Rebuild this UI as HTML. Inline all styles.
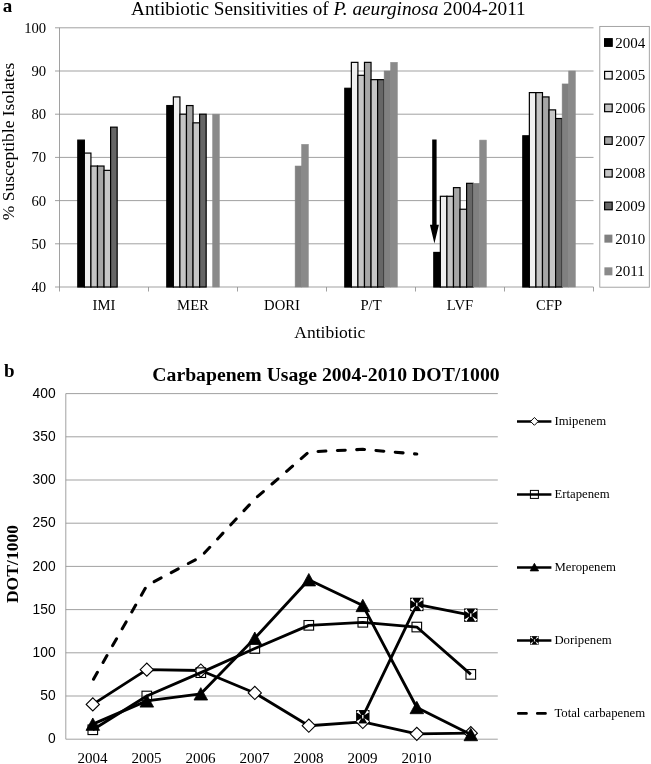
<!DOCTYPE html>
<html lang="en"><head><meta charset="utf-8"><title>Antibiotic Sensitivities of P. aeurginosa and Carbapenem Usage</title>
<style>
html,body{margin:0;padding:0;background:#fff;}
body{width:651px;height:764px;overflow:hidden;}
svg{display:block;will-change:transform;}
text{font-family:"Liberation Serif", serif;fill:#000;}
.sans{font-family:"Liberation Sans", sans-serif;}
.grid{stroke:#909090;stroke-width:0.85;fill:none;shape-rendering:auto;}
.ser{fill:none;stroke:#000;stroke-width:2.85;stroke-linejoin:round;stroke-linecap:butt;}
</style></head><body>
<svg width="651" height="764" viewBox="0 0 651 764">
<rect x="0" y="0" width="651" height="764" fill="#ffffff"/>

<g id="panelA">
<text x="2.8" y="12.4" font-size="19" font-weight="bold">a</text>
<text x="328.4" y="15.4" font-size="19.24" text-anchor="middle">Antibiotic Sensitivities of <tspan font-style="italic">P. aeurginosa</tspan> 2004-2011</text>
<line class="grid" x1="55.0" y1="287.00" x2="593.5" y2="287.00"/>
<text x="46.2" y="292.00" font-size="14.67" text-anchor="end">40</text>
<line class="grid" x1="55.0" y1="243.80" x2="593.5" y2="243.80"/>
<text x="46.2" y="248.80" font-size="14.67" text-anchor="end">50</text>
<line class="grid" x1="55.0" y1="200.60" x2="593.5" y2="200.60"/>
<text x="46.2" y="205.60" font-size="14.67" text-anchor="end">60</text>
<line class="grid" x1="55.0" y1="157.40" x2="593.5" y2="157.40"/>
<text x="46.2" y="162.40" font-size="14.67" text-anchor="end">70</text>
<line class="grid" x1="55.0" y1="114.20" x2="593.5" y2="114.20"/>
<text x="46.2" y="119.20" font-size="14.67" text-anchor="end">80</text>
<line class="grid" x1="55.0" y1="71.00" x2="593.5" y2="71.00"/>
<text x="46.2" y="76.00" font-size="14.67" text-anchor="end">90</text>
<line class="grid" x1="55.0" y1="27.80" x2="593.5" y2="27.80"/>
<text x="46.2" y="32.80" font-size="14.67" text-anchor="end">100</text>
<line class="grid" x1="59.5" y1="27.80" x2="59.5" y2="291.5"/>
<line class="grid" x1="148.5" y1="287.0" x2="148.5" y2="291.5"/>
<line class="grid" x1="237.5" y1="287.0" x2="237.5" y2="291.5"/>
<line class="grid" x1="326.5" y1="287.0" x2="326.5" y2="291.5"/>
<line class="grid" x1="415.5" y1="287.0" x2="415.5" y2="291.5"/>
<line class="grid" x1="504.5" y1="287.0" x2="504.5" y2="291.5"/>
<line class="grid" x1="593.5" y1="287.0" x2="593.5" y2="291.5"/>
<text transform="translate(14.2,141.5) rotate(-90)" font-size="17.5" text-anchor="middle">% Susceptible Isolates</text>
<text x="104.00" y="310.3" font-size="14.67" text-anchor="middle">IMI</text>
<text x="193.00" y="310.3" font-size="14.67" text-anchor="middle">MER</text>
<text x="282.00" y="310.3" font-size="14.67" text-anchor="middle">DORI</text>
<text x="371.00" y="310.3" font-size="14.67" text-anchor="middle">P/T</text>
<text x="460.00" y="310.3" font-size="14.67" text-anchor="middle">LVF</text>
<text x="549.00" y="310.3" font-size="14.67" text-anchor="middle">CFP</text>
<text x="329.8" y="338" font-size="17.5" text-anchor="middle">Antibiotic</text>
<rect x="77.80" y="140.12" width="6.56" height="146.88" fill="#000000" stroke="#000" stroke-width="1.2"/>
<rect x="84.36" y="153.08" width="6.56" height="133.92" fill="#f0f0f0" stroke="#000" stroke-width="1.2"/>
<rect x="90.92" y="166.04" width="6.56" height="120.96" fill="#c4c4c4" stroke="#000" stroke-width="1.2"/>
<rect x="97.48" y="166.04" width="6.56" height="120.96" fill="#a6a6a6" stroke="#000" stroke-width="1.2"/>
<rect x="104.04" y="170.36" width="6.56" height="116.64" fill="#c6c6c6" stroke="#000" stroke-width="1.2"/>
<rect x="110.60" y="127.16" width="6.56" height="159.84" fill="#666666" stroke="#000" stroke-width="1.2"/>
<rect x="166.80" y="105.56" width="6.56" height="181.44" fill="#000000" stroke="#000" stroke-width="1.2"/>
<rect x="173.36" y="96.92" width="6.56" height="190.08" fill="#f0f0f0" stroke="#000" stroke-width="1.2"/>
<rect x="179.92" y="114.20" width="6.56" height="172.80" fill="#c4c4c4" stroke="#000" stroke-width="1.2"/>
<rect x="186.48" y="105.56" width="6.56" height="181.44" fill="#a6a6a6" stroke="#000" stroke-width="1.2"/>
<rect x="193.04" y="122.84" width="6.56" height="164.16" fill="#c6c6c6" stroke="#000" stroke-width="1.2"/>
<rect x="199.60" y="114.20" width="6.56" height="172.80" fill="#666666" stroke="#000" stroke-width="1.2"/>
<rect x="212.72" y="114.20" width="6.56" height="172.80" fill="#8a8a8a" stroke="#8a8a8a" stroke-width="0.6"/>
<rect x="295.16" y="166.04" width="6.56" height="120.96" fill="#808080" stroke="#808080" stroke-width="0.6"/>
<rect x="301.72" y="144.44" width="6.56" height="142.56" fill="#8a8a8a" stroke="#8a8a8a" stroke-width="0.6"/>
<rect x="344.80" y="88.28" width="6.56" height="198.72" fill="#000000" stroke="#000" stroke-width="1.2"/>
<rect x="351.36" y="62.36" width="6.56" height="224.64" fill="#f0f0f0" stroke="#000" stroke-width="1.2"/>
<rect x="357.92" y="75.32" width="6.56" height="211.68" fill="#c4c4c4" stroke="#000" stroke-width="1.2"/>
<rect x="364.48" y="62.36" width="6.56" height="224.64" fill="#a6a6a6" stroke="#000" stroke-width="1.2"/>
<rect x="371.04" y="79.64" width="6.56" height="207.36" fill="#c6c6c6" stroke="#000" stroke-width="1.2"/>
<rect x="377.60" y="79.64" width="6.56" height="207.36" fill="#666666" stroke="#000" stroke-width="1.2"/>
<rect x="384.16" y="71.00" width="6.56" height="216.00" fill="#808080" stroke="#808080" stroke-width="0.6"/>
<rect x="390.72" y="62.36" width="6.56" height="224.64" fill="#8a8a8a" stroke="#8a8a8a" stroke-width="0.6"/>
<rect x="433.80" y="252.44" width="6.56" height="34.56" fill="#000000" stroke="#000" stroke-width="1.2"/>
<rect x="440.36" y="196.28" width="6.56" height="90.72" fill="#f0f0f0" stroke="#000" stroke-width="1.2"/>
<rect x="446.92" y="196.28" width="6.56" height="90.72" fill="#c4c4c4" stroke="#000" stroke-width="1.2"/>
<rect x="453.48" y="187.64" width="6.56" height="99.36" fill="#a6a6a6" stroke="#000" stroke-width="1.2"/>
<rect x="460.04" y="209.24" width="6.56" height="77.76" fill="#c6c6c6" stroke="#000" stroke-width="1.2"/>
<rect x="466.60" y="183.32" width="6.56" height="103.68" fill="#666666" stroke="#000" stroke-width="1.2"/>
<rect x="473.16" y="183.32" width="6.56" height="103.68" fill="#808080" stroke="#808080" stroke-width="0.6"/>
<rect x="479.72" y="140.12" width="6.56" height="146.88" fill="#8a8a8a" stroke="#8a8a8a" stroke-width="0.6"/>
<rect x="522.80" y="135.80" width="6.56" height="151.20" fill="#000000" stroke="#000" stroke-width="1.2"/>
<rect x="529.36" y="92.60" width="6.56" height="194.40" fill="#f0f0f0" stroke="#000" stroke-width="1.2"/>
<rect x="535.92" y="92.60" width="6.56" height="194.40" fill="#c4c4c4" stroke="#000" stroke-width="1.2"/>
<rect x="542.48" y="96.92" width="6.56" height="190.08" fill="#a6a6a6" stroke="#000" stroke-width="1.2"/>
<rect x="549.04" y="109.88" width="6.56" height="177.12" fill="#c6c6c6" stroke="#000" stroke-width="1.2"/>
<rect x="555.60" y="118.52" width="6.56" height="168.48" fill="#666666" stroke="#000" stroke-width="1.2"/>
<rect x="562.16" y="83.96" width="6.56" height="203.04" fill="#808080" stroke="#808080" stroke-width="0.6"/>
<rect x="568.72" y="71.00" width="6.56" height="216.00" fill="#8a8a8a" stroke="#8a8a8a" stroke-width="0.6"/>
<path d="M432.2 139.5 H436.6 V224.7 H438.9 L434.4 243.6 L429.9 224.7 H432.2 Z" fill="#000"/>
<rect x="599.8" y="26.4" width="49.5" height="260.8" fill="#fff" stroke="#959595" stroke-width="0.85"/>
<rect x="604.6" y="38.70" width="7.6" height="7.6" fill="#000000" stroke="#000" stroke-width="1.2"/>
<text x="615.3" y="47.60" font-size="15">2004</text>
<rect x="604.6" y="71.39" width="7.6" height="7.6" fill="#f0f0f0" stroke="#000" stroke-width="1.2"/>
<text x="615.3" y="80.29" font-size="15">2005</text>
<rect x="604.6" y="104.08" width="7.6" height="7.6" fill="#c4c4c4" stroke="#000" stroke-width="1.2"/>
<text x="615.3" y="112.98" font-size="15">2006</text>
<rect x="604.6" y="136.77" width="7.6" height="7.6" fill="#a6a6a6" stroke="#000" stroke-width="1.2"/>
<text x="615.3" y="145.67" font-size="15">2007</text>
<rect x="604.6" y="169.46" width="7.6" height="7.6" fill="#c6c6c6" stroke="#000" stroke-width="1.2"/>
<text x="615.3" y="178.36" font-size="15">2008</text>
<rect x="604.6" y="202.15" width="7.6" height="7.6" fill="#666666" stroke="#000" stroke-width="1.2"/>
<text x="615.3" y="211.05" font-size="15">2009</text>
<rect x="604.4" y="234.64" width="8" height="8" fill="#808080"/>
<text x="615.3" y="243.74" font-size="15">2010</text>
<rect x="604.4" y="267.33" width="8" height="8" fill="#8a8a8a"/>
<text x="615.3" y="276.43" font-size="15">2011</text>
</g>
<g id="panelB">
<text x="4" y="376.9" font-size="19" font-weight="bold">b</text>
<text x="326" y="380.5" font-size="19.7" font-weight="bold" text-anchor="middle">Carbapenem Usage 2004-2010 DOT/1000</text>
<line class="grid" x1="65.8" y1="739.20" x2="497.80" y2="739.20"/>
<text class="sans" x="55.6" y="743.30" font-size="13.8" text-anchor="end">0</text>
<line class="grid" x1="65.8" y1="696.00" x2="497.80" y2="696.00"/>
<text class="sans" x="55.6" y="700.10" font-size="13.8" text-anchor="end">50</text>
<line class="grid" x1="65.8" y1="652.80" x2="497.80" y2="652.80"/>
<text class="sans" x="55.6" y="656.90" font-size="13.8" text-anchor="end">100</text>
<line class="grid" x1="65.8" y1="609.60" x2="497.80" y2="609.60"/>
<text class="sans" x="55.6" y="613.70" font-size="13.8" text-anchor="end">150</text>
<line class="grid" x1="65.8" y1="566.40" x2="497.80" y2="566.40"/>
<text class="sans" x="55.6" y="570.50" font-size="13.8" text-anchor="end">200</text>
<line class="grid" x1="65.8" y1="523.20" x2="497.80" y2="523.20"/>
<text class="sans" x="55.6" y="527.30" font-size="13.8" text-anchor="end">250</text>
<line class="grid" x1="65.8" y1="480.00" x2="497.80" y2="480.00"/>
<text class="sans" x="55.6" y="484.10" font-size="13.8" text-anchor="end">300</text>
<line class="grid" x1="65.8" y1="436.80" x2="497.80" y2="436.80"/>
<text class="sans" x="55.6" y="440.90" font-size="13.8" text-anchor="end">350</text>
<line class="grid" x1="65.8" y1="393.60" x2="497.80" y2="393.60"/>
<text class="sans" x="55.6" y="397.70" font-size="13.8" text-anchor="end">400</text>
<line class="grid" x1="65.8" y1="393.60" x2="65.8" y2="739.2"/>
<text transform="translate(18.1,564) rotate(-90)" font-size="17.6" font-weight="bold" text-anchor="middle">DOT/1000</text>
<text x="92.50" y="762.7" font-size="15.1" text-anchor="middle">2004</text>
<text x="146.50" y="762.7" font-size="15.1" text-anchor="middle">2005</text>
<text x="200.50" y="762.7" font-size="15.1" text-anchor="middle">2006</text>
<text x="254.50" y="762.7" font-size="15.1" text-anchor="middle">2007</text>
<text x="308.50" y="762.7" font-size="15.1" text-anchor="middle">2008</text>
<text x="362.50" y="762.7" font-size="15.1" text-anchor="middle">2009</text>
<text x="416.50" y="762.7" font-size="15.1" text-anchor="middle">2010</text>
<polyline class="ser" points="92.80,704.38 146.80,669.65 200.80,670.51 254.80,692.98 308.80,725.72 362.80,721.92 416.80,733.84 470.80,733.15"/>
<path d="M86.20 704.38 L92.80 697.78 L99.40 704.38 L92.80 710.98 Z" fill="#fff" stroke="#000" stroke-width="1.1"/>
<path d="M140.20 669.65 L146.80 663.05 L153.40 669.65 L146.80 676.25 Z" fill="#fff" stroke="#000" stroke-width="1.1"/>
<path d="M194.20 670.51 L200.80 663.91 L207.40 670.51 L200.80 677.11 Z" fill="#fff" stroke="#000" stroke-width="1.1"/>
<path d="M248.20 692.98 L254.80 686.38 L261.40 692.98 L254.80 699.58 Z" fill="#fff" stroke="#000" stroke-width="1.1"/>
<path d="M302.20 725.72 L308.80 719.12 L315.40 725.72 L308.80 732.32 Z" fill="#fff" stroke="#000" stroke-width="1.1"/>
<path d="M356.20 721.92 L362.80 715.32 L369.40 721.92 L362.80 728.52 Z" fill="#fff" stroke="#000" stroke-width="1.1"/>
<path d="M410.20 733.84 L416.80 727.24 L423.40 733.84 L416.80 740.44 Z" fill="#fff" stroke="#000" stroke-width="1.1"/>
<path d="M464.20 733.15 L470.80 726.55 L477.40 733.15 L470.80 739.75 Z" fill="#fff" stroke="#000" stroke-width="1.1"/>
<polyline class="ser" points="92.80,729.78 146.80,696.00 200.80,672.67 254.80,648.48 308.80,625.32 362.80,622.30 416.80,627.05 470.80,674.40"/>
<rect x="88.00" y="724.98" width="9.6" height="9.6" fill="none" stroke="#000" stroke-width="1.1"/>
<rect x="142.00" y="691.20" width="9.6" height="9.6" fill="none" stroke="#000" stroke-width="1.1"/>
<rect x="196.00" y="667.87" width="9.6" height="9.6" fill="none" stroke="#000" stroke-width="1.1"/>
<rect x="250.00" y="643.68" width="9.6" height="9.6" fill="none" stroke="#000" stroke-width="1.1"/>
<rect x="304.00" y="620.52" width="9.6" height="9.6" fill="none" stroke="#000" stroke-width="1.1"/>
<rect x="358.00" y="617.50" width="9.6" height="9.6" fill="none" stroke="#000" stroke-width="1.1"/>
<rect x="412.00" y="622.25" width="9.6" height="9.6" fill="none" stroke="#000" stroke-width="1.1"/>
<rect x="466.00" y="669.60" width="9.6" height="9.6" fill="none" stroke="#000" stroke-width="1.1"/>
<polyline class="ser" points="92.80,724.17 146.80,700.92 200.80,693.84 254.80,638.20 308.80,579.71 362.80,605.45 416.80,707.49 470.80,734.53"/>
<path d="M92.80 717.97 L99.60 730.37 L86.00 730.37 Z" fill="#000" stroke="#000" stroke-width="0.8" stroke-linejoin="miter"/>
<path d="M146.80 694.72 L153.60 707.12 L140.00 707.12 Z" fill="#000" stroke="#000" stroke-width="0.8" stroke-linejoin="miter"/>
<path d="M200.80 687.64 L207.60 700.04 L194.00 700.04 Z" fill="#000" stroke="#000" stroke-width="0.8" stroke-linejoin="miter"/>
<path d="M254.80 632.00 L261.60 644.40 L248.00 644.40 Z" fill="#000" stroke="#000" stroke-width="0.8" stroke-linejoin="miter"/>
<path d="M308.80 573.51 L315.60 585.91 L302.00 585.91 Z" fill="#000" stroke="#000" stroke-width="0.8" stroke-linejoin="miter"/>
<path d="M362.80 599.25 L369.60 611.65 L356.00 611.65 Z" fill="#000" stroke="#000" stroke-width="0.8" stroke-linejoin="miter"/>
<path d="M416.80 701.29 L423.60 713.69 L410.00 713.69 Z" fill="#000" stroke="#000" stroke-width="0.8" stroke-linejoin="miter"/>
<path d="M470.80 728.33 L477.60 740.73 L464.00 740.73 Z" fill="#000" stroke="#000" stroke-width="0.8" stroke-linejoin="miter"/>
<polyline class="ser" points="362.80,716.74 416.80,604.42 470.80,615.13"/>
<g><rect x="356.10" y="710.04" width="13.4" height="13.4" fill="#000"/><path d="M356.37 712.31 L358.38 710.30 L361.33 715.26 Z M356.37 721.16 L358.38 723.17 L361.33 718.21 Z M369.23 712.31 L367.22 710.30 L364.27 715.26 Z M369.23 721.16 L367.22 723.17 L364.27 718.21 Z" fill="#fff"/><rect x="362.13" y="714.99" width="1.34" height="3.48" fill="#fff"/></g>
<g><rect x="410.10" y="597.72" width="13.4" height="13.4" fill="#000"/><path d="M410.37 599.99 L412.38 597.98 L415.33 602.94 Z M410.37 608.84 L412.38 610.85 L415.33 605.89 Z M423.23 599.99 L421.22 597.98 L418.27 602.94 Z M423.23 608.84 L421.22 610.85 L418.27 605.89 Z" fill="#fff"/><rect x="416.13" y="602.67" width="1.34" height="3.48" fill="#fff"/></g>
<g><rect x="464.10" y="608.43" width="13.4" height="13.4" fill="#000"/><path d="M464.37 610.71 L466.38 608.70 L469.33 613.66 Z M464.37 619.55 L466.38 621.56 L469.33 616.60 Z M477.23 610.71 L475.22 608.70 L472.27 613.66 Z M477.23 619.55 L475.22 621.56 L472.27 616.60 Z" fill="#fff"/><rect x="470.13" y="613.39" width="1.34" height="3.48" fill="#fff"/></g>
<polyline class="ser" style="stroke-width:3.05;stroke-linecap:round" stroke-dashoffset="-1.4" stroke-dasharray="7.9 11.45" points="92.80,680.45 146.80,585.58 200.80,556.90 254.80,499.01 308.80,451.92 362.80,449.33 416.80,454.08"/>
<line class="ser" style="stroke-width:2.55" x1="517" y1="421.40" x2="551.4" y2="421.40"/>
<path d="M530.50 421.40 L534.40 417.50 L538.30 421.40 L534.40 425.30 Z" fill="#fff" stroke="#000" stroke-width="1"/>
<text x="554.4" y="425.40" font-size="12.75">Imipenem</text>
<line class="ser" style="stroke-width:2.55" x1="517" y1="494.40" x2="551.4" y2="494.40"/>
<rect x="530.40" y="490.40" width="8" height="8" fill="none" stroke="#000" stroke-width="1"/>
<text x="554.4" y="498.40" font-size="12.75">Ertapenem</text>
<line class="ser" style="stroke-width:2.55" x1="517" y1="567.40" x2="551.4" y2="567.40"/>
<path d="M534.40 563.30 L538.60 570.90 L530.20 570.90 Z" fill="#000" stroke="#000" stroke-width="0.8" stroke-linejoin="miter"/>
<text x="554.4" y="571.40" font-size="12.75">Meropenem</text>
<line class="ser" style="stroke-width:2.55" x1="517" y1="640.40" x2="551.4" y2="640.40"/>
<g><rect x="530.10" y="636.10" width="8.6" height="8.6" fill="#000"/><path d="M530.27 637.56 L531.56 636.27 L533.45 639.45 Z M530.27 643.24 L531.56 644.53 L533.45 641.35 Z M538.53 637.56 L537.24 636.27 L535.35 639.45 Z M538.53 643.24 L537.24 644.53 L535.35 641.35 Z" fill="#fff"/><rect x="533.97" y="639.28" width="0.86" height="2.24" fill="#fff"/></g>
<text x="554.4" y="644.40" font-size="12.75">Doripenem</text>
<line class="ser" style="stroke-linecap:round;stroke-width:2.7" x1="517" y1="713.40" x2="551.4" y2="713.40" stroke-dashoffset="-1.3" stroke-dasharray="8.2 10.8"/>
<text x="554.4" y="717.40" font-size="12.75">Total carbapenem</text>
</g>
</svg>
</body></html>
